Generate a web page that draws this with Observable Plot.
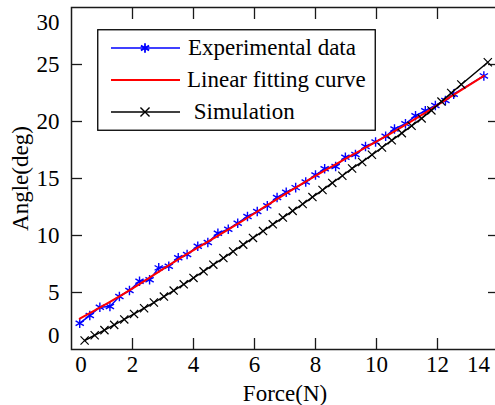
<!DOCTYPE html>
<html>
<head>
<meta charset="utf-8">
<script src="https://cdn.jsdelivr.net/npm/d3@7"></script>
<script src="https://cdn.jsdelivr.net/npm/@observablehq/plot@0.6"></script>
<style>
  html, body { margin: 0; padding: 0; background: #fff; }
  #chart { position: relative; width: 495px; height: 405px; overflow: hidden; color: #000; }
  #legend { position: absolute; left: 97px; top: 29px; }
</style>
</head>
<body>
<div id="chart"></div>
<script>
// ---- data ----
const seriesNames = ["Experimental data", "Linear fitting curve", "Simulation"];
const seriesColors = ["#0000ff", "#ff0000", "#000000"];

const expForce = [0.27,0.60,0.93,1.26,1.57,1.90,2.23,2.56,2.86,3.19,3.50,3.79,4.14,4.47,4.80,5.14,5.45,5.77,6.09,6.42,6.74,7.04,7.35,7.68,8.00,8.30,8.66,8.98,9.31,9.64,9.97,10.30,10.59,10.95,11.28,11.60,11.93,12.26,12.53,13.52];
const expAngle = [2.31,2.98,3.71,3.77,4.65,5.18,5.99,6.11,7.16,7.30,8.04,8.33,9.06,9.39,10.20,10.55,11.08,11.67,12.10,12.60,13.33,13.80,14.20,14.70,15.30,15.85,16.05,16.87,17.10,17.80,18.20,18.70,19.35,19.80,20.50,20.95,21.40,21.85,22.40,24.00];

const fitForce = [0.27,1.5,2.5,3.5,4.5,5.5,6.5,7.5,8.5,9.5,10.5,11.5,12.5,13.52];
const fitAngle = [2.7,4.55,6.2,7.9,9.5,11.1,12.8,14.45,16.0,17.5,19.0,20.6,22.3,24.0];

const simForce = [0.43,0.76,1.08,1.40,1.73,2.05,2.38,2.70,3.03,3.35,3.68,4.00,4.33,4.65,4.98,5.30,5.63,5.95,6.28,6.60,6.93,7.25,7.58,7.90,8.23,8.55,8.88,9.20,9.53,9.85,10.18,10.50,10.83,11.15,11.48,11.80,12.13,12.45,12.78,13.65];
const simAngle = [0.79,1.25,1.70,2.16,2.64,3.12,3.62,4.12,4.64,5.17,5.72,6.28,6.86,7.44,8.02,8.60,9.20,9.79,10.39,10.98,11.57,12.16,12.76,13.37,13.99,14.61,15.24,15.88,16.45,17.08,17.72,18.35,18.98,19.62,20.27,20.97,21.75,22.50,23.25,25.20];

const xInnerTicks = [2, 4, 6, 8, 10, 12];
const xFirstTick = [0];
const xLastTick = [14];
const yInnerTicks = [5, 10, 15, 20, 25];
const yFirstTick = [0];
const yLastTick = [30];

// ---- build tables ----
const exp = expForce.map((f, i) => ({force: f, angle: expAngle[i]}));
const fit = fitForce.map((f, i) => ({force: f, angle: fitAngle[i]}));
const sim = simForce.map((f, i) => ({force: f, angle: simAngle[i]}));

const font = "'Liberation Serif', 'Times New Roman', serif";
const tickStroke = "#1a1a1a";

const plot = Plot.plot({
  width: 495,
  height: 405,
  marginLeft: 71,
  marginRight: -3,
  marginTop: 7,
  marginBottom: 56,
  style: {fontFamily: font, fontSize: "23px", color: "#000", background: "#fff", overflow: "visible"},
  x: {domain: [0, 14]},
  y: {domain: [0, 30]},
  marks: [
    // bottom axis: inward ticks + labels + title
    Plot.axisX(xInnerTicks, {anchor: "bottom", tickSize: -11, tickPadding: 17, stroke: tickStroke, strokeWidth: 1.3,
      label: "Force(N)", labelAnchor: "center", labelArrow: "none", labelOffset: 51}),
    Plot.axisX(xFirstTick, {anchor: "bottom", tickSize: 0, tickPadding: 6, dx: 9.5, label: null}),
    Plot.axisX(xLastTick, {anchor: "bottom", tickSize: 0, tickPadding: 6, dx: -20, label: null}),
    // top axis: inward ticks only
    Plot.axisX(xInnerTicks, {anchor: "top", tickSize: -11, tickFormat: () => "", stroke: tickStroke, strokeWidth: 1.3, label: null}),
    // left axis
    Plot.axisY(yInnerTicks, {anchor: "left", tickSize: -11, tickPadding: 23, stroke: tickStroke, strokeWidth: 1.3,
      label: "Angle(deg)", labelAnchor: "center", labelArrow: "none", labelOffset: 60}),
    Plot.axisY(yFirstTick, {anchor: "left", tickSize: 0, tickPadding: 12, dy: -14, label: null}),
    Plot.axisY(yLastTick, {anchor: "left", tickSize: 0, tickPadding: 12, dy: 15.5, label: null}),
    // right axis: inward ticks only
    Plot.axisY(yInnerTicks, {anchor: "right", tickSize: -11, tickFormat: () => "", stroke: tickStroke, strokeWidth: 1.3, label: null}),
    Plot.frame({stroke: tickStroke, strokeWidth: 1.5}),
    // experimental data
    Plot.line(exp, {x: "force", y: "angle", stroke: seriesColors[0], strokeWidth: 1.5}),
    Plot.dot(exp, {x: "force", y: "angle", symbol: "asterisk", r: 4.5, stroke: seriesColors[0], strokeWidth: 1.4}),
    // linear fitting curve
    Plot.line(fit, {x: "force", y: "angle", stroke: seriesColors[1], strokeWidth: 2, curve: "monotone-x"}),
    // simulation
    Plot.line(sim, {x: "force", y: "angle", stroke: seriesColors[2], strokeWidth: 1.5}),
    Plot.dot(sim, {x: "force", y: "angle", symbol: "times", r: 3.8, stroke: seriesColors[2], strokeWidth: 1.2})
  ]
});

const chart = document.getElementById("chart");
chart.appendChild(plot);

// ---- legend (inside the axes, top-left) ----
const lw = 279, lh = 102;
const legend = d3.create("svg")
  .attr("id", "legend")
  .attr("width", lw).attr("height", lh)
  .style("font-family", font).style("font-size", "23px");
legend.append("rect").attr("x", 0.75).attr("y", 0.75).attr("width", lw - 1.5).attr("height", lh - 1.5)
  .attr("fill", "#fff").attr("stroke", "#000").attr("stroke-width", 1.3);
const symbols = [d3.symbolAsterisk, null, d3.symbolTimes];
const symSizes = [Math.PI * 4.5 * 4.5, 0, Math.PI * 4.2 * 4.2];
const labelX = [91, 90, 91];
seriesNames.forEach((name, i) => {
  const cy = 19 + i * 32;
  const g = legend.append("g").attr("transform", `translate(0,${cy})`);
  g.append("line").attr("x1", 14).attr("x2", 83).attr("y1", 0).attr("y2", 0)
    .attr("stroke", seriesColors[i]).attr("stroke-width", i === 1 ? 2 : 1.5);
  if (symbols[i]) {
    g.append("path").attr("transform", "translate(48,0)")
      .attr("d", d3.symbol(symbols[i], symSizes[i])())
      .attr("fill", "none").attr("stroke", seriesColors[i]).attr("stroke-width", i === 0 ? 1.8 : 1.4);
  }
  g.append("text").attr("x", labelX[i]).attr("y", 0).attr("dy", "0.32em")
    .attr("fill", "#000").style("white-space", "pre")
    .text(i === 2 ? " " + name : name);
});
chart.appendChild(legend.node());
</script>
</body>
</html>
